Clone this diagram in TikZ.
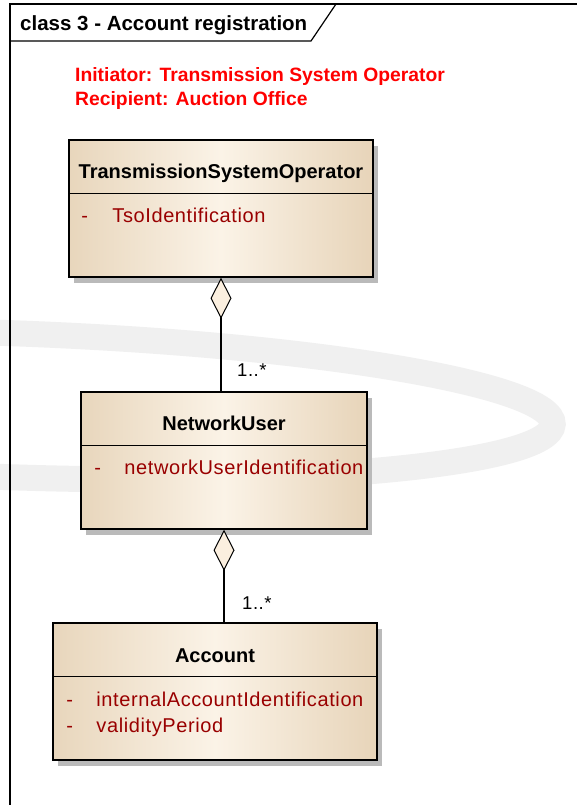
\documentclass[tikz,border=0pt]{standalone}
\usepackage{fontspec}
\setmainfont{Liberation Sans}
\newfontfamily\attrfont[LetterSpace=3.0]{Liberation Sans}
\usetikzlibrary{arrows.meta,shadows,positioning}
\definecolor{classleft}{HTML}{E8D6BC}
\definecolor{classmid}{HTML}{FBF3E7}
\definecolor{classright}{HTML}{E7D4B9}
\definecolor{attrred}{HTML}{990000}
\definecolor{diafill}{HTML}{FBEFDF}
\definecolor{infored}{HTML}{FF0000}
\tikzset{
	umlclass/.style={draw=black, line width=1.5pt, rectangle, inner sep=0pt, left color=classleft, right color=classright, middle color=classmid, drop shadow={shadow xshift=5pt, shadow yshift=-6pt, fill=black!27, opacity=1}},
	classname/.style={font=\fontsize{20}{24}\selectfont\bfseries, anchor=base, inner sep=0pt},
	attr/.style={font=\attrfont\fontsize{20}{24}\selectfont, text=attrred, anchor=base west, inner sep=0pt},
	mult/.style={font=\attrfont\fontsize{18.5}{22}\selectfont, anchor=base west, inner sep=0pt},
	info/.style={font=\fontsize{19.3}{23}\selectfont\bfseries, text=infored, anchor=base west, inner sep=0pt},
	aggr/.style={draw=black, line width=1.5pt, -{Diamond[length=41pt, width=21pt, fill=diafill, line width=1pt]}},
	watermark/.style={draw=black!6, line width=26pt}
}
\begin{document}
\begin{tikzpicture}[x=1pt,y=-1pt]
	\fill[white] (0,0) rectangle (576,805);
	\useasboundingbox (0,0) rectangle (576,805);
	\draw[watermark] (5,405) ellipse [x radius=548, y radius=72, rotate=-2];

	\draw[line width=1.2pt] (582,4) -- (10,4) -- (10,812);
	\draw[line width=1.2pt] (10,41) -- (311,41) -- (336,4);
	\node[font=\fontsize{20.5}{24}\selectfont\bfseries, anchor=base west, inner sep=0pt] (frame) at (20,30.5) {class 3 - Account registration};

	\node[info] (initiator) at (75,82) {Initiator: Transmission System Operator};
	\node[info] (recipient) at (75,106) {Recipient: Auction Office};

	\node[umlclass, minimum width=304pt, minimum height=137pt] (tso) at (221,208.5) {};
	\node[umlclass, minimum width=286pt, minimum height=137pt] (nu) at (224,460.5) {};
	\node[umlclass, minimum width=324pt, minimum height=137pt] (acc) at (215,691.5) {};

	\foreach \c in {tso,nu,acc}
		\draw[line width=1.5pt] ([yshift=-54pt]\c.north west) -- ([yshift=-54pt]\c.north east);

	\node[classname] (tsoname) at ([yshift=-39pt]tso.north) {TransmissionSystemOperator};
	\node[classname] (nuname) at ([yshift=-39pt]nu.north) {NetworkUser};
	\node[classname] (accname) at ([yshift=-40pt]acc.north) {Account};

	\node[attr] (tsodash) at ([xshift=13pt,yshift=-83pt]tso.north west) {-};
	\node[attr] (tsoid) at ([xshift=44pt,yshift=-83pt]tso.north west) {TsoIdentification};
	\node[attr] (nudash) at ([xshift=14pt,yshift=-83pt]nu.north west) {-};
	\node[attr] (nuid) at ([xshift=44pt,yshift=-83pt]nu.north west) {networkUserIdentification};
	\node[attr] (accdash1) at ([xshift=14pt,yshift=-84pt]acc.north west) {-};
	\node[attr] (accid) at ([xshift=44pt,yshift=-84pt]acc.north west) {internalAccountIdentification};
	\node[attr] (accdash2) at ([xshift=14pt,yshift=-110pt]acc.north west) {-};
	\node[attr] (accvalid) at ([xshift=44pt,yshift=-110pt]acc.north west) {validityPeriod};

	\draw[aggr] (nu.north -| tso.south) -- (tso.south);
	\draw[aggr] (acc.north -| nu.south) -- (nu.south);

	\node[mult] (nutso) at ([xshift=16pt,yshift=15pt]nu.north -| tso.south) {1..*};
	\node[mult] (accnu) at ([xshift=18pt,yshift=13pt]acc.north -| nu.south) {1..*};
\end{tikzpicture}
\end{document}
